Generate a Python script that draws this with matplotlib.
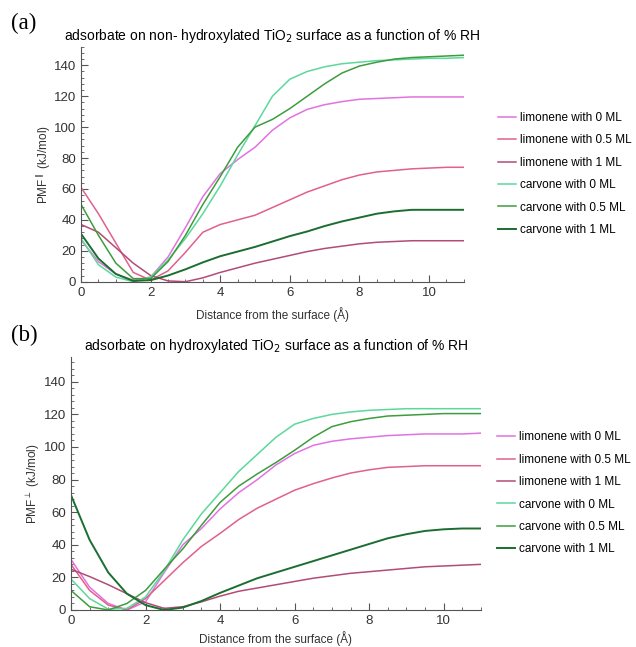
import matplotlib.pyplot as plt
from matplotlib.ticker import MultipleLocator

plt.rcParams['font.family'] = ['Liberation Sans', 'DejaVu Sans']

distance = [0, 0.5, 1, 1.5, 2, 2.5, 3, 3.5, 4, 4.5, 5, 5.5, 6, 6.5, 7, 7.5, 8, 8.5, 9, 9.5, 10, 10.5, 11]

labels = ['limonene with 0 ML', 'limonene with 0.5 ML', 'limonene with 1 ML',
          'carvone with 0 ML', 'carvone with 0.5 ML', 'carvone with 1 ML']
colors = ['#e272e0', '#e0608e', '#b24c76', '#5cd89c', '#3d9c3d', '#1b6e30']

# (a) non-hydroxylated surface
lim0_a = [27, 13, 5, 1, 3, 16, 35, 55, 70, 79, 87, 98, 106, 111.5, 114.5, 116.5, 118, 118.5, 119, 119.5, 119.5, 119.5, 119.5]
lim05_a = [61, 44, 25, 6, 1, 7, 19, 32, 37, 40, 43, 48, 53, 58, 62, 66, 69, 71, 72, 73, 73.5, 74, 74]
lim1_a = [37, 32, 22, 12, 4, 0.5, 0, 2.5, 6, 9, 12, 14.5, 17, 19.5, 21.5, 23, 24.5, 25.5, 26, 26.5, 26.5, 26.5, 26.5]
carv0_a = [28, 11, 3, 0, 3, 14, 28, 44, 62, 82, 101, 120, 131, 136, 139, 141, 142, 143, 143.5, 144, 144.5, 144.5, 145]
carv05_a = [50, 30, 12, 2, 2, 13, 30, 50, 68, 87, 100, 105, 112, 120, 128, 135, 139.5, 142, 144, 145, 145.5, 146, 146.5]
carv1_a = [31, 15, 5, 0.5, 1, 4, 8, 12.5, 16.5, 19.5, 22.5, 26, 29.5, 32.5, 36, 39, 41.5, 44, 45.5, 46.5, 46.5, 46.5, 46.5]

# (b) hydroxylated surface
lim0_b = [31, 14, 4, 0, 5, 23, 40, 50, 62, 72, 80, 89, 96, 101, 103.5, 105, 106, 107, 107.5, 108, 108, 108, 108.5]
lim05_b = [28, 12, 3, 0, 7, 18, 29, 39, 47, 55.5, 62.5, 68, 73.5, 77.5, 81, 84, 86, 87.5, 88, 88.5, 88.5, 88.5, 88.5]
lim1_b = [25, 20.5, 15.5, 10, 4.5, 1, 2, 5, 8.5, 11.5, 13.5, 15.5, 17.5, 19.5, 21, 22.5, 23.5, 24.5, 25.5, 26.5, 27, 27.5, 28]
carv0_b = [19, 7, 0.5, 1, 8, 24, 43, 59, 72, 85, 95.5, 106, 114, 117.5, 120, 121.5, 122.5, 123, 123.5, 123.5, 123.5, 123.5, 123.5]
carv05_b = [12, 2, 0, 4, 12, 25, 37.5, 52, 66, 76, 83.5, 90.5, 98, 106, 112.5, 115.5, 117.5, 119, 119.5, 120, 120.5, 120.5, 120.5]
carv1_b = [70.5, 43, 23, 10, 3, 0, 1.5, 5.5, 10.5, 15, 19.5, 23, 26.5, 30, 33.5, 37, 40.5, 44, 46.5, 48.5, 49.5, 50, 50]

series_a = [lim0_a, lim05_a, lim1_a, carv0_a, carv05_a, carv1_a]
series_b = [lim0_b, lim05_b, lim1_b, carv0_b, carv05_b, carv1_b]

fig = plt.figure(figsize=(6.36, 6.47), dpi=100)
ax_a = fig.add_axes([0.1274, 0.5646, 0.602, 0.3632])
ax_b = fig.add_axes([0.1116, 0.0572, 0.6447, 0.3915])


def style(ax, series, title, ylab, ytop, leg_pos, xpad):
    for ys, lab, c in zip(series, labels, colors):
        lw = 1.4 if lab == 'carvone with 1 ML' else 1.1
        ax.plot(distance, ys, color=c, lw=lw, label=lab)
    ax.set_xlim(0, 11)
    ax.set_ylim(0, ytop)
    for s in ['top', 'right']:
        ax.spines[s].set_visible(False)
    for s in ['left', 'bottom']:
        ax.spines[s].set_color('#555555')
        ax.spines[s].set_linewidth(0.8)
    ax.xaxis.set_major_locator(MultipleLocator(2))
    ax.xaxis.set_minor_locator(MultipleLocator(0.5))
    ax.yaxis.set_major_locator(MultipleLocator(20))
    ax.yaxis.set_minor_locator(MultipleLocator(4))
    ax.tick_params(which='both', direction='in', colors='#555555', labelcolor='#333333', labelsize=9.5)
    ax.tick_params(which='major', length=5, width=0.8)
    ax.tick_params(which='minor', length=2.5, width=0.6)
    ax.set_title(title, fontsize=10, pad=5)
    ax.set_xlabel('Distance from the surface (Å)', fontsize=8.5, color='#333333', labelpad=xpad)
    ax.set_ylabel(ylab, fontsize=8.5, color='#333333', labelpad=1)
    ax.legend(loc='upper left', bbox_to_anchor=leg_pos, frameon=False,
              fontsize=8.5, handlelength=1.5, handletextpad=0.35, labelspacing=0.88,
              borderpad=0, borderaxespad=0)


style(ax_a, series_a, 'adsorbate on non- hydroxylated TiO$_2$ surface as a function of % RH',
      'PMF$^{\\parallel}$ (kJ/mol)', 152, (1.089, 0.722), 6)
style(ax_b, series_b, 'adsorbate on hydroxylated TiO$_2$ surface as a function of % RH',
      'PMF$^{\\perp}$ (kJ/mol)', 155.4, (1.039, 0.705), 3)

fig.text(0.018, 0.963, '(a)', fontsize=16.5, family='Liberation Serif', va='center')
fig.text(0.018, 0.482, '(b)', fontsize=16.5, family='Liberation Serif', va='center')

fig.savefig('out.png', dpi=100)
